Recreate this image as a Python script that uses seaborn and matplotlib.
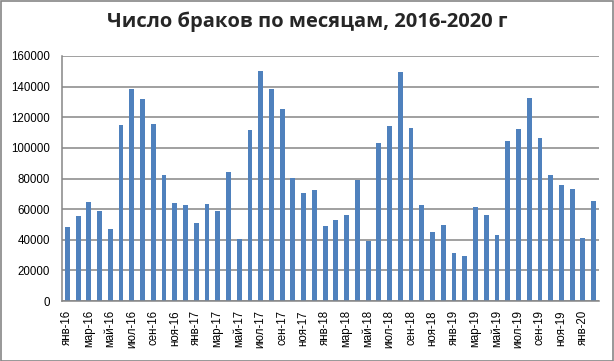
import matplotlib
matplotlib.use("Agg")
import matplotlib.pyplot as plt
import seaborn as sns
import pandas as pd
from matplotlib.patches import Rectangle

month_names = ["янв", "фев", "мар", "апр", "май", "июн",
               "июл", "авг", "сен", "окт", "ноя", "дек"]
years = ["16", "17", "18", "19", "20"]
months = [f"{m}-{y}" for y in years for m in month_names][:50]

marriages = [48300, 55500, 64600, 58800, 47000, 114900, 138400, 131900, 115600, 82300, 64000, 62700,
             50900, 63300, 58800, 84200, 40500, 111700, 150200, 138400, 125400, 80300, 70500, 72500,
             49000, 52900, 56200, 79000, 39200, 103200, 114300, 149500, 113000, 62700, 45000, 49600,
             31300, 29400, 61400, 56200, 43100, 104500, 112300, 132600, 106400, 82300, 75700, 73100,
             41100, 65300]

title = "Число браков по месяцам, 2016-2020 г"
yticks = [0, 20000, 40000, 60000, 80000, 100000, 120000, 140000, 160000]

df = pd.DataFrame({"month": months, "value": marriages})

sns.set_theme(style="white")
plt.rcParams["font.family"] = ["Liberation Sans", "DejaVu Sans"]

fig = plt.figure(figsize=(6.14, 3.61), dpi=100)
ax = fig.add_axes([62/614, 1-301/361, (599-62)/614, (301-56)/361])
ax.set_axisbelow(True)
ax.grid(axis="y", color="#868686", linewidth=1.1)

sns.barplot(data=df, x="month", y="value", order=months, color="#4F81BD",
            width=0.45, saturation=1, ax=ax, linewidth=0, edgecolor="none")

ax.set_ylim(0, 160000)
ax.set_xlim(-0.5, len(months) - 0.5)
ax.set_yticks(yticks)
ax.set_yticklabels([str(v) for v in yticks], fontsize=8.3)
ax.set_xticks(range(0, len(months), 2))
ax.set_xticklabels(months[::2], rotation=90, fontsize=8.3, va="top", ha="center")
ax.tick_params(axis="y", length=0, pad=8.5, colors="black")
ax.tick_params(axis="x", length=0, pad=6.5, colors="black")
ax.set_xlabel("")
ax.set_ylabel("")
ax.grid(axis="y", color="#868686", linewidth=1.1)
ax.grid(axis="x", visible=False)
for s in ["top", "right"]:
    ax.spines[s].set_visible(False)
for s in ["left", "bottom"]:
    ax.spines[s].set_color("#868686")
    ax.spines[s].set_linewidth(1.1)

fig.text(0.5, 1-22/361, title, ha="center", va="center",
         fontsize=14.5, fontweight="bold", family=["Open Sans", "DejaVu Sans"])

fig.patches.append(Rectangle((0.5/614, 0.5/361), 1-1.5/614, 1-1.5/361, transform=fig.transFigure,
                             fill=False, edgecolor="#868686", linewidth=1.2))

fig.savefig("out.png", dpi=100)
